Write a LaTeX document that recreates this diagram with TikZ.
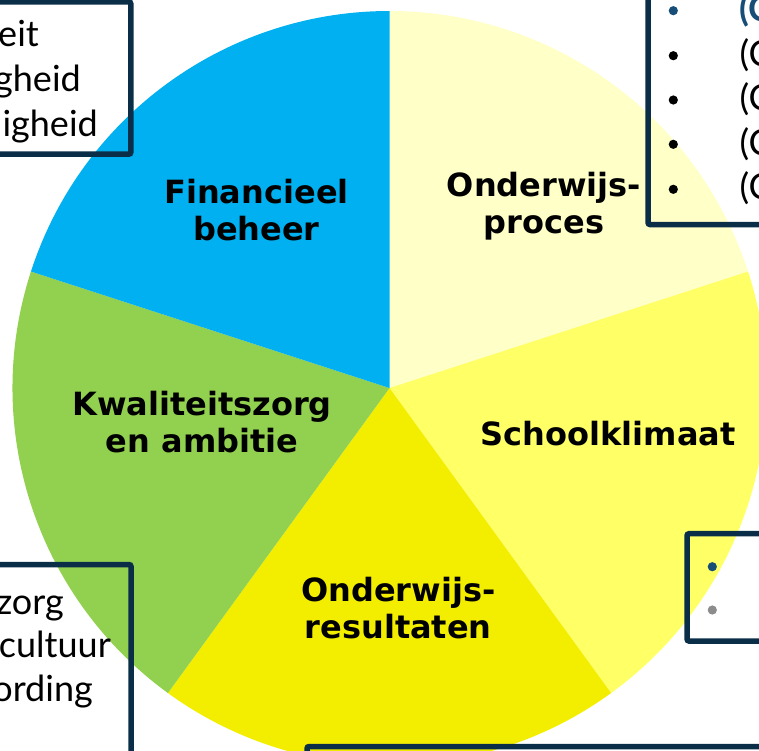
\documentclass[tikz,border=0pt]{standalone}
\usepackage{fontspec}
\setmainfont{Lato}
\newfontfamily\labelfont{DejaVu Sans}
\newfontfamily\boxfont{Lato}
\definecolor{pielight}{HTML}{FFFFC8}
\definecolor{pieyellow}{HTML}{FFFF66}
\definecolor{pieres}{HTML}{F3EE00}
\definecolor{piegreen}{HTML}{92D050}
\definecolor{pieblue}{HTML}{00B0F0}
\definecolor{boxnavy}{HTML}{0A2E48}
\definecolor{bulletnavy}{HTML}{164E78}
\definecolor{bulletgray}{HTML}{8C8C8C}
\begin{document}
\begin{tikzpicture}[x=1pt,y=1pt,
  slicelabel/.style={font={\labelfont\bfseries\fontsize{32}{37}\selectfont}, align=center, inner sep=0pt, anchor=north},
  callout/.style={draw=boxnavy, line width=5.5pt, rounded corners=2pt},
  boxtextr/.style={font={\boxfont\fontsize{36}{44}\selectfont}, inner sep=0pt, anchor=base east},
  boxtextl/.style={font={\boxfont\fontsize{36}{44}\selectfont}, inner sep=0pt, anchor=base west},
  bulletdot/.style={radius=4.6pt}]
\useasboundingbox (0,0) rectangle (759,-750);
\clip (0,0) rectangle (759,-750);
\coordinate (C) at (389.5,-388);
% pie slices
\fill[pielight]  (C) -- ++(18:377pt)  arc[start angle=18,  end angle=90,  radius=377pt] -- cycle;
\fill[pieyellow] (C) -- ++(-54:377pt) arc[start angle=-54, end angle=18,  radius=377pt] -- cycle;
\fill[pieres]    (C) -- ++(-126:377pt) arc[start angle=-126, end angle=-54, radius=377pt] -- cycle;
\fill[piegreen]  (C) -- ++(162:377pt) arc[start angle=162, end angle=234, radius=377pt] -- cycle;
\fill[pieblue]   (C) -- ++(90:377pt)  arc[start angle=90,  end angle=162, radius=377pt] -- cycle;
% slice labels
\node[slicelabel] (fin) at (256.5,-179) {Financieel\\beheer};
\node[slicelabel] (proc) at (544,-172.2) {Onderwijs-\\proces};
\node[slicelabel] (kwal) at (202,-391.4) {Kwaliteitszorg\\en ambitie};
\node[slicelabel, anchor=base] (school) at (608.3,-445.5) {Schoolklimaat};
\node[slicelabel] (res) at (398.3,-577.4) {Onderwijs-\\resultaten};
% callout boxes
\draw[callout] (-20,-1.8) rectangle (130.8,-154.2);
\draw[callout] (648,20) rectangle (790,-224.5);
\draw[callout] (687,-533.7) rectangle (790,-641);
\draw[callout] (-20,-564.5) rectangle (131,-790);
\draw[callout] (307,-746.5) rectangle (790,-800);
% top-left box text
\node[boxtextr] (tl1) at (39,-46.7) {eit};
\node[boxtextr] (tl2) at (81,-91.7) {gheid};
\node[boxtextr] (tl3) at (98,-136.7) {igheid};
% bottom-left box text
\node[boxtextr] (bl1) at (64,-614) {zorg};
\node[boxtextr] (bl2) at (111,-657) {cultuur};
\node[boxtextr] (bl3) at (93,-701.5) {ording};
% top-right box bullets and text
\fill[bulletnavy] (673.3,-10.7) circle[bulletdot];
\fill[black] (673.3,-55.7) circle[bulletdot];
\fill[black] (673.3,-100) circle[bulletdot];
\fill[black] (673.3,-144.3) circle[bulletdot];
\fill[black] (673.3,-189.3) circle[bulletdot];
\node[boxtextl, text=bulletnavy, font={\boxfont\bfseries\fontsize{36}{44}\selectfont}] (tr1) at (739.5,-21.4) {(C};
\node[boxtextl] (tr2) at (739.5,-66.4) {(C};
\node[boxtextl] (tr3) at (739.5,-110.7) {(C};
\node[boxtextl] (tr4) at (739.5,-155) {(C};
\node[boxtextl] (tr5) at (739.5,-199.5) {(C};
% right-middle box bullets
\fill[bulletnavy] (712.3,-566.7) circle[bulletdot];
\fill[bulletgray] (712.3,-610) circle[bulletdot];
\end{tikzpicture}
\end{document}
